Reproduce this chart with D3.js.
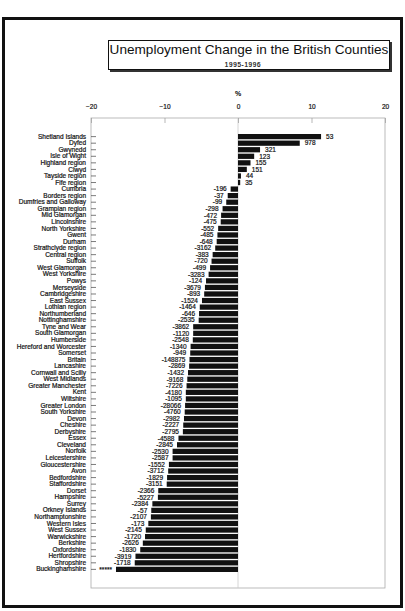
<!DOCTYPE html>
<html>
<head>
<meta charset="utf-8">
<script src="https://cdn.jsdelivr.net/npm/d3@7"></script>
<style>
  body { margin: 0; background: #fff; }
  svg { display: block; font-family: "Liberation Sans", Arial, sans-serif; }
  .ink { stroke: #111; stroke-width: 0.2; }
</style>
</head>
<body>
<svg id="chart" width="405" height="611"></svg>
<script>
// counties, top to bottom
const counties = [
  "Shetland Islands", "Dyfed", "Gwynedd", "Isle of Wight", "Highland region", "Clwyd",
  "Tayside region", "Fife region", "Cumbria", "Borders region", "Dumfries and Galloway",
  "Grampian region", "Mid Glamorgan", "Lincolnshire", "North Yorkshire", "Gwent", "Durham",
  "Strathclyde region", "Central region", "Suffolk", "West Glamorgan", "West Yorkshire",
  "Powys", "Merseyside", "Cambridgeshire", "East Sussex", "Lothian region", "Northumberland",
  "Nottinghamshire", "Tyne and Wear", "South Glamorgan", "Humberside",
  "Hereford and Worcester", "Somerset", "Britain", "Lancashire", "Cornwall and Scilly",
  "West Midlands", "Greater Manchester", "Kent", "Wiltshire", "Greater London",
  "South Yorkshire", "Devon", "Cheshire", "Derbyshire", "Essex", "Cleveland", "Norfolk",
  "Leicestershire", "Gloucestershire", "Avon", "Bedfordshire", "Staffordshire", "Dorset",
  "Hampshire", "Surrey", "Orkney Islands", "Northamptonshire", "Western Isles",
  "West Sussex", "Warwickshire", "Berkshire", "Oxfordshire", "Hertfordshire",
  "Shropshire", "Buckinghamshire"
]

// % change (bar length)
const pctChange = [
  11.3, 8.4, 3.0, 2.2, 1.7, 1.2,
  0.4, 0.3, -1.0, -1.4, -1.6,
  -2.1, -2.3, -2.35, -2.7, -2.8, -2.9,
  -3.1, -3.45, -3.6, -3.8, -4.0,
  -4.35, -4.5, -4.6, -4.9, -5.2, -5.3,
  -5.35, -6.1, -6.1, -6.15,
  -6.45, -6.5, -6.6, -6.65, -6.8,
  -6.9, -7.0, -7.1, -7.1, -7.2,
  -7.25, -7.35, -7.45, -7.5, -8.1, -8.3, -8.9,
  -8.9, -9.4, -9.5, -9.65, -9.7, -10.85,
  -10.9, -11.65, -11.8, -11.85, -12.2,
  -12.55, -12.65, -12.95, -13.3, -13.95,
  -14.05, -16.6
]

// absolute change printed next to each bar
const changeLabels = [
  "53", "978", "321", "123", "155", "151",
  "44", "35", "-196", "-37", "-99",
  "-298", "-472", "-475", "-552", "-485", "-648",
  "-3162", "-383", "-720", "-499", "-3283",
  "-124", "-3679", "-893", "-1524", "-1464", "-646",
  "-2535", "-3862", "-1120", "-2548",
  "-1340", "-949", "-148875", "-2869", "-1432",
  "-9168", "-7226", "-4180", "-1095", "-28066",
  "-4760", "-2982", "-2227", "-2795", "-4588", "-2845", "-2530",
  "-2587", "-1552", "-3712", "-1829", "-3151", "-2366",
  "-5227", "-2384", "-57", "-2107", "-173",
  "-2145", "-1720", "-2626", "-1830", "-3919",
  "-1718", "*****"
]

const xTicks = [-20, -10, 0, 10, 20]

const rows = counties.map((name, i) => ({ name, pct: pctChange[i], label: changeLabels[i] }))

const svg = d3.select("#chart")

const box = { left: 91, right: 385, top: 118, bottom: 588 }

const x = d3.scaleLinear().domain([-20, 20]).range([box.left, box.right])
const y = d3.scaleBand().domain(counties).range([134, 572]).paddingInner(0.2)

// outer frame
svg.append("rect")
  .attr("x", 3.5).attr("y", 18.5)
  .attr("width", 398).attr("height", 588)
  .attr("fill", "none")
  .attr("stroke", "#111")
  .attr("stroke-width", 3)

// title box with shadow
svg.append("rect")
  .attr("x", 110).attr("y", 42)
  .attr("width", 282).attr("height", 30)
  .attr("fill", "#333")
svg.append("rect")
  .attr("x", 108.5).attr("y", 40.5)
  .attr("width", 281).attr("height", 29)
  .attr("fill", "#fff")
  .attr("stroke", "#111")
  .attr("stroke-width", 1)

svg.append("text")
  .attr("x", 249).attr("y", 54)
  .attr("text-anchor", "middle")
  .attr("font-size", 13.6)
  .attr("fill", "#111")
  .text("Unemployment Change in the British Counties")

svg.append("text")
  .classed("ink", true)
  .attr("x", 243).attr("y", 66.5)
  .attr("text-anchor", "middle")
  .attr("font-size", 6.3)
  .attr("letter-spacing", 0.7)
  .attr("fill", "#111")
  .text("1995-1996")

svg.append("text")
  .attr("x", x(0)).attr("y", 96)
  .attr("text-anchor", "middle")
  .attr("font-size", 7)
  .attr("font-weight", "bold")
  .text("%")

// plot frame and zero line
svg.append("rect")
  .attr("x", box.left).attr("y", box.top)
  .attr("width", box.right - box.left).attr("height", box.bottom - box.top)
  .attr("fill", "none")
  .attr("stroke", "#aaa")
  .attr("stroke-width", 0.8)

svg.append("line")
  .attr("x1", x(0)).attr("x2", x(0))
  .attr("y1", box.top).attr("y2", box.bottom)
  .attr("stroke", "#ccc")
  .attr("stroke-width", 0.8)

// top axis
const xAxis = svg.append("g")
  .attr("transform", `translate(0,${box.top})`)
  .call(d3.axisTop(x).tickValues(xTicks).tickSizeInner(-5).tickSizeOuter(0).tickPadding(9))
xAxis.select(".domain").remove()
xAxis.selectAll(".tick line").attr("stroke", "#999").attr("stroke-width", 0.7)
xAxis.selectAll(".tick text")
  .classed("ink", true)
  .attr("font-family", "Liberation Sans, Arial, sans-serif")
  .attr("font-size", 6.5)
  .attr("fill", "#111")

// left axis with county names
const yAxis = svg.append("g")
  .attr("transform", `translate(${box.left},0)`)
  .call(d3.axisLeft(y).tickSizeInner(-5).tickSizeOuter(0).tickPadding(5))
yAxis.select(".domain").remove()
yAxis.selectAll(".tick line").attr("stroke", "#444").attr("stroke-width", 0.7)
yAxis.selectAll(".tick text")
  .classed("ink", true)
  .attr("font-family", "Liberation Sans, Arial, sans-serif")
  .attr("font-size", 6.5)
  .attr("fill", "#111")

// bars
svg.append("g")
  .selectAll("rect")
  .data(rows)
  .join("rect")
  .attr("x", (d) => x(Math.min(0, d.pct)))
  .attr("y", (d) => y(d.name))
  .attr("width", (d) => Math.abs(x(d.pct) - x(0)))
  .attr("height", y.bandwidth())
  .attr("fill", "#111")

// value labels
svg.append("g")
  .selectAll("text")
  .data(rows)
  .join("text")
  .classed("ink", true)
  .attr("x", (d) => (d.pct >= 0 ? x(d.pct) + 5 : x(d.pct) - 4))
  .attr("y", (d) => y(d.name) + y.bandwidth() / 2)
  .attr("dy", "0.35em")
  .attr("text-anchor", (d) => (d.pct >= 0 ? "start" : "end"))
  .attr("font-size", 6.5)
  .attr("fill", "#111")
  .text((d) => d.label)
</script>
</body>
</html>
